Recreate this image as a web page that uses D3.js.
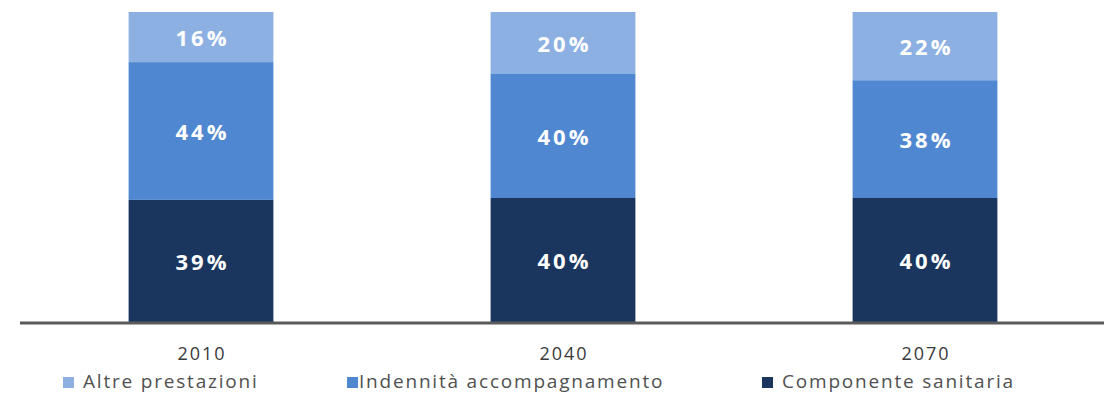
<!DOCTYPE html>
<html>
<head>
<meta charset="utf-8">
<script src="https://cdn.jsdelivr.net/npm/d3@7"></script>
<style>
  html, body { margin: 0; padding: 0; background: #fff; }
  svg { display: block; }
</style>
</head>
<body>
<svg id="chart" width="1109" height="396"></svg>
<script>
// Composition of long-term care spending by year (shares, %)
const years = ["2010", "2040", "2070"];
const seriesNames = ["Componente sanitaria", "Indennità accompagnamento", "Altre prestazioni"];
const componenteSanitaria = [39, 40, 40];
const indennitaAccompagnamento = [44, 40, 38];
const altrePrestazioni = [16, 20, 22];
const legendOrder = ["Altre prestazioni", "Indennità accompagnamento", "Componente sanitaria"];

const colors = {
  "Componente sanitaria": "#1a365f",
  "Indennità accompagnamento": "#4f87d1",
  "Altre prestazioni": "#8db0e2"
};

const rows = years.map((y, i) => ({
  year: y,
  "Componente sanitaria": componenteSanitaria[i],
  "Indennità accompagnamento": indennitaAccompagnamento[i],
  "Altre prestazioni": altrePrestazioni[i]
}));

const svg = d3.select("#chart");
const baseY = 322, topY = 12;
const font = "'Open Sans', sans-serif";

const x = d3.scaleBand().domain(years).range([20, 1106]).paddingInner(0.6).paddingOuter(0.3);
const y = d3.scaleLinear().domain([0, 1]).range([baseY, topY]);

const stack = d3.stack().keys(seriesNames).offset(d3.stackOffsetExpand);
const layers = stack(rows);

const labelSpacing = 3;
const g = svg.append("g");
layers.forEach(layer => {
  const key = layer.key;
  g.selectAll(null)
    .data(layer)
    .join("rect")
    .attr("x", d => x(d.data.year))
    .attr("width", x.bandwidth())
    .attr("y", d => y(d[1]))
    .attr("height", d => y(d[0]) - y(d[1]))
    .attr("fill", colors[key]);

  g.selectAll(null)
    .data(layer)
    .join("text")
    .attr("x", d => x(d.data.year) + x.bandwidth() / 2 + labelSpacing / 2)
    .attr("y", d => (y(d[0]) + y(d[1])) / 2 + 1)
    .attr("dy", "0.36em")
    .attr("text-anchor", "middle")
    .attr("fill", "#fff")
    .attr("font-family", font)
    .attr("font-weight", "bold")
    .attr("font-size", 22)
    .attr("letter-spacing", labelSpacing)
    .text(d => d.data[key] + "%");
});

// baseline
svg.append("line")
  .attr("x1", 20).attr("x2", 1104)
  .attr("y1", baseY + 1).attr("y2", baseY + 1)
  .attr("stroke", "#5a5a5a").attr("stroke-width", 3);

// category axis labels
const axis = d3.axisBottom(x).tickSize(0).tickPadding(0);
const ax = svg.append("g").attr("transform", `translate(0,${baseY + 25})`).call(axis);
ax.select(".domain").remove();
ax.selectAll("text")
  .attr("font-family", font)
  .attr("font-size", 18)
  .attr("letter-spacing", 2)
  .attr("dx", 1)
  .attr("fill", "#3a3a3a");

// legend
const legendX = [63, 347, 762];
const lg = svg.append("g");
legendOrder.forEach((name, i) => {
  lg.append("rect")
    .attr("x", legendX[i]).attr("y", 377)
    .attr("width", 11).attr("height", 11)
    .attr("fill", colors[name]);
  lg.append("text")
    .attr("x", legendX[i] + (i === 1 ? 12 : 20)).attr("y", 388)
    .attr("font-family", font)
    .attr("font-size", 19)
    .attr("letter-spacing", 1.8)
    .attr("fill", "#505050")
    .text(name);
});
</script>
</body>
</html>
